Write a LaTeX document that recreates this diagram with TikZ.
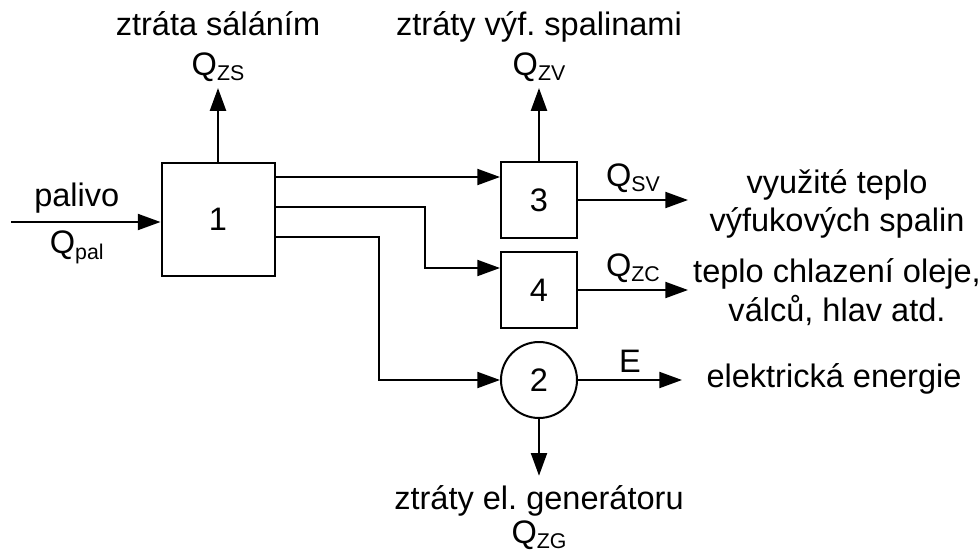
\documentclass[tikz,border=0pt]{standalone}
\usepackage{fontspec}
\setmainfont{Liberation Sans}
\usetikzlibrary{positioning,arrows.meta,calc}
\newcommand{\Qsub}[1]{Q\raisebox{-4pt}{\fontsize{16}{16}\selectfont #1}}
\frenchspacing

\begin{document}
\begin{tikzpicture}[
    x=0.75pt, y=-0.75pt,
    font=\fontsize{24.4}{29}\selectfont,
    box/.style={draw, rectangle, minimum size=84.75pt, line width=1.5pt, inner sep=0pt},
    smallbox/.style={box, minimum size=57pt},
    genbox/.style={draw, circle, minimum size=57pt, line width=1.5pt, inner sep=0pt},
    txt/.style={align=center, inner sep=3pt},
    lbl/.style={anchor=base, inner xsep=2pt, inner ysep=5pt},
    arrow/.style={-{Triangle[length=17pt, width=12pt]}, line width=1.5pt}
  ]
    \useasboundingbox (0,0) rectangle (979,554);

    \node[box] (box1) at (218,219) {1};
    \node[smallbox] (box3) at (539,200) {3};
    \node[smallbox] (box4) at (539,290) {4};
    \node[genbox] (gen) at (539,380) {2};

    % losses
    \node[lbl] (zs) at (218,75) {\Qsub{ZS}};
    \node[lbl] (zsText) at (218,35) {ztráta sáláním};
    \node[lbl] (zv) at (539,75) {\Qsub{ZV}};
    \node[lbl] (zvText) at (539,35) {ztráty výf. spalinami};
    \node[lbl, text height=18pt, inner ysep=6.75pt] (zgText) at (539,509) {ztráty el. generátoru};
    \node[lbl, inner ysep=1pt] (zg) at (539,543) {\Qsub{ZG}};

    % outputs
    \node[txt] (useText) at (837,204) {využité teplo\\výfukových spalin};
    \node[txt] (coolText) at (837,292) {teplo chlazení oleje,\\válců, hlav atd.};
    \node[lbl] (elText) at (834,387) {elektrická energie};
    \coordinate (fuel) at (11,222);
    \coordinate (use3) at (688,200);
    \coordinate (use4) at (688,290);
    \coordinate (useE) at (682,380);

    % branches out of box 1
    \coordinate (p3) at ([yshift=31.5pt]box1.east);
    \coordinate (p4) at ([yshift=9pt]box1.east);
    \coordinate (p2) at ([yshift=-13.5pt]box1.east);
    \coordinate (q4) at ([yshift=16.5pt]box4.west);

    \draw[arrow] (fuel) -- node[above, pos=0.44, inner ysep=5.5pt] {palivo}
      node[below, pos=0.44, inner ysep=6pt] {\Qsub{pal}} (fuel -| box1.west);
    \draw[arrow] (box1) -- (zs);
    \draw[arrow] (box3) -- (zv);
    \draw[arrow] (gen) -- (zgText);
    \draw[arrow] (p3) -- (p3 -| box3.west);
    \draw[arrow] (p4) -| ([xshift=-56.25pt]q4) -- (q4);
    \draw[arrow] (p2) -| ([xshift=-90.75pt]gen.west) -- (gen.west);
    \draw[arrow] (box3) -- node[above, inner ysep=5pt] {\Qsub{SV}} (use3);
    \draw[arrow] (box4) -- node[above, inner ysep=5pt] {\Qsub{ZC}} (use4);
    \draw[arrow] (gen) -- node[above, inner ysep=5.25pt] {E} (useE);
  \end{tikzpicture}
\end{document}
